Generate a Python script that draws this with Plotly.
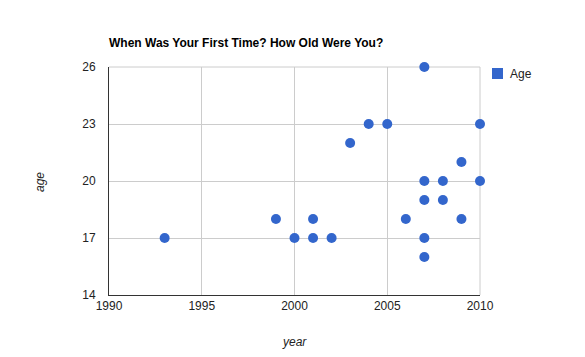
import plotly.graph_objects as go

title = "When Was Your First Time? How Old Were You?"
years = [1993, 1999, 2000, 2001, 2001, 2002, 2003, 2004, 2005, 2006,
         2007, 2007, 2007, 2007, 2007, 2008, 2008, 2009, 2009, 2010, 2010]
ages = [17, 18, 17, 18, 17, 17, 22, 23, 23, 18,
        26, 20, 19, 17, 16, 20, 19, 21, 18, 23, 20]
series_name = "Age"
x_title = "year"
y_title = "age"
x_ticks = [1990, 1995, 2000, 2005, 2010]
y_ticks = [14, 17, 20, 23, 26]

W, H = 585, 357
L, R, T, B = 109, 480, 67, 295

color = "#3366cc"
grid = "#cccccc"
font = "Liberation Sans, Arial, sans-serif"


def px_x(x):
    return (x - L) / (R - L)


def px_y(y):
    return (B - y) / (B - T)


fig = go.Figure()
fig.add_trace(go.Scatter(
    x=years, y=ages, mode="markers", name=series_name, showlegend=False,
    marker=dict(color=color, size=10, line=dict(width=0)), cliponaxis=False,
))

fig.update_layout(
    width=W, height=H,
    margin=dict(l=L, r=W - R, t=T, b=H - B, autoexpand=False),
    paper_bgcolor="white", plot_bgcolor="white",
    font=dict(family=font, size=12, color="#222222"),
    title=dict(text="<b>" + title + "</b>", x=L / W, xanchor="left",
               y=1 - 43 / H, yanchor="middle",
               font=dict(family=font, size=12, color="#000000")),
    showlegend=False,
    xaxis=dict(range=[1990, 2010], tickvals=x_ticks, ticktext=[str(v) for v in x_ticks],
               showgrid=True, gridcolor=grid, gridwidth=1,
               showline=True, linecolor="#333333", linewidth=1, mirror=False,
               zeroline=False, ticks="", automargin=False, layer="below traces"),
    yaxis=dict(range=[14, 26], tickvals=y_ticks, ticktext=[str(v) for v in y_ticks],
               showgrid=True, gridcolor=grid, gridwidth=1,
               showline=True, linecolor="#333333", linewidth=1, mirror=False,
               zeroline=False, ticks="", automargin=False, ticklabelstandoff=10,
               layer="below traces"),
    shapes=[
        dict(type="line", xref="paper", yref="paper", x0=0, x1=1, y0=1, y1=1,
             line=dict(color=grid, width=1), layer="below"),
        dict(type="line", xref="paper", yref="paper", x0=1, x1=1, y0=0, y1=1,
             line=dict(color=grid, width=1), layer="below"),
        dict(type="rect", xref="paper", yref="paper",
             x0=px_x(492), x1=px_x(503), y0=px_y(79), y1=px_y(68),
             fillcolor=color, line=dict(width=0)),
    ],
    annotations=[
        dict(text=series_name, xref="paper", yref="paper", x=px_x(508), y=px_y(74),
             xanchor="left", yanchor="middle", showarrow=False,
             font=dict(family=font, size=12, color="#222222")),
        dict(text="<i>" + x_title + "</i>", xref="paper", yref="paper",
             x=px_x(294), y=px_y(342), xanchor="center", yanchor="middle",
             showarrow=False, font=dict(family=font, size=12, color="#222222")),
        dict(text="<i>" + y_title + "</i>", xref="paper", yref="paper",
             x=px_x(40), y=px_y(182), xanchor="center", yanchor="middle",
             textangle=-90, showarrow=False,
             font=dict(family=font, size=12, color="#222222")),
    ],
)

fig.write_html("out.html", config={"displayModeBar": False},
               post_script="document.body.style.margin='0';document.body.style.overflow='hidden';")
